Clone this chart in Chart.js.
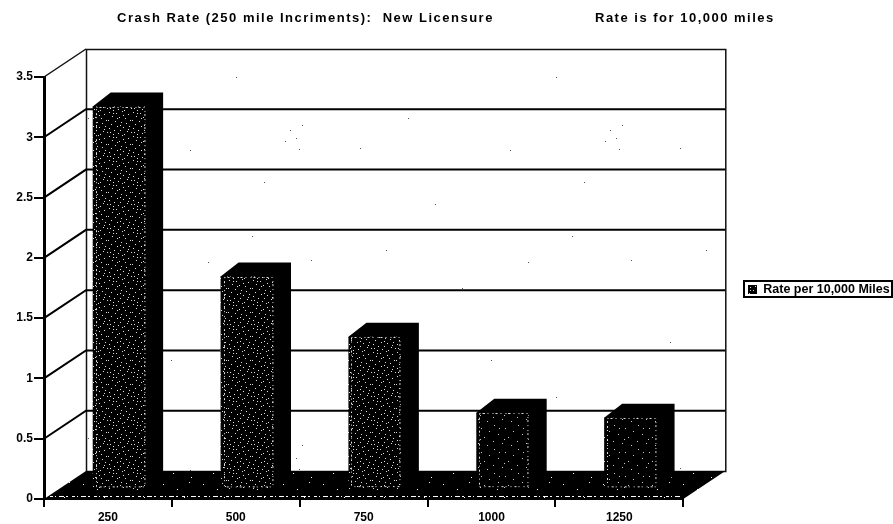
<!DOCTYPE html>
<html>
<head>
<meta charset="utf-8">
<style>
  html, body { margin: 0; padding: 0; background: #fff; }
  canvas { display: block; }
</style>
<script src="https://cdn.jsdelivr.net/npm/chart.js@4/dist/chart.umd.min.js"></script>
</head>
<body>
<canvas id="crashChart" width="893" height="524"></canvas>
<script>
const categories = ['250', '500', '750', '1000', '1250'];
const crashRates = [3.18, 1.77, 1.27, 0.64, 0.6];
const seriesName = 'Rate per 10,000 Miles';
const titleLeft = 'Crash Rate (250 mile Incriments):  New Licensure';
const titleRight = 'Rate is for 10,000 miles';

const labelFont = { family: 'Liberation Sans', weight: 'bold', size: 12 };
const legendFont = { family: 'Liberation Sans', weight: 'bold', size: 12.5 };
const cssFont = 'bold 13px "Liberation Sans"';

// depth of the fake 3D box and of each bar
const wallDx = 42, wallDy = -28;
const barShiftX = 11, barShiftY = -9;
const barDx = 18, barDy = -14;

// speckle positions for the tiles
const barDots = [[2, 1], [9, 2], [15, 0], [21, 3], [5, 5], [12, 6], [18, 7], [1, 9], [8, 10], [23, 9],
  [14, 11], [19, 12], [4, 13], [10, 15], [22, 15], [16, 16], [2, 17], [7, 19], [13, 19], [20, 20],
  [0, 21], [11, 22], [17, 23], [6, 23], [3, 21], [10, 7], [16, 4], [21, 18], [6, 2], [13, 14]];
const darkBarDots = [[3, 2], [14, 5], [22, 8], [7, 11], [17, 14], [2, 18], [11, 20], [20, 22], [8, 5], [13, 16]];
const floorDots = [[3, 4], [17, 9], [29, 2], [8, 21], [24, 17], [35, 28], [13, 33], [31, 37]];
const wallDots = [[30, 22], [171, 40], [88, 118], [236, 77], [115, 204], [40, 148], [264, 182],
  [290, 130], [296, 138], [302, 125], [285, 141], [299, 149], [208, 262], [142, 288], [66, 250],
  [252, 236], [190, 150], [311, 260], [24, 290]];

function makePattern(size, bg, fg, dots) {
  const c = document.createElement('canvas');
  c.width = c.height = size;
  const g = c.getContext('2d');
  g.fillStyle = bg;
  g.fillRect(0, 0, size, size);
  g.fillStyle = fg;
  dots.forEach(d => g.fillRect(d[0], d[1], 1, 1));
  return g.createPattern(c, 'repeat');
}

const barFill = makePattern(24, '#000', '#ddd', barDots);
const darkBarFill = makePattern(24, '#000', '#ccc', darkBarDots);
const floorFill = makePattern(40, '#000', '#fff', floorDots);
const wallFill = makePattern(320, '#fff', '#555', wallDots);

const box3d = {
  id: 'box3d',
  afterLayout(chart) {
    // legend sits out at the right edge, away from the plot
    const lg = chart.legend;
    const w = lg.right - lg.left, h = lg.bottom - lg.top;
    lg.left = 743;
    lg.right = 743 + w;
    lg.top -= 11;
    lg.bottom = lg.top + h;
  },
  beforeDatasetsDraw(chart) {
    const { ctx, chartArea: a, scales: { y } } = chart;
    const bx = a.left + wallDx, bxr = a.right + wallDx;
    const byTop = y.getPixelForValue(y.max) + wallDy, byBot = a.bottom + wallDy;
    ctx.save();
    // back wall
    ctx.fillStyle = wallFill;
    ctx.fillRect(bx, byTop, bxr - bx, byBot - byTop);
    ctx.strokeStyle = '#111';
    ctx.lineWidth = 1.5;
    ctx.strokeRect(bx + 0.5, byTop + 0.5, bxr - bx, byBot - byTop);
    // side wall top edge
    ctx.beginPath();
    ctx.moveTo(a.left, a.top);
    ctx.lineTo(bx, byTop);
    ctx.stroke();
    // floor
    ctx.fillStyle = floorFill;
    ctx.beginPath();
    ctx.moveTo(a.left, a.bottom);
    ctx.lineTo(bx, byBot);
    ctx.lineTo(bxr, byBot);
    ctx.lineTo(a.right, a.bottom);
    ctx.closePath();
    ctx.fill();
    // broken white edge along the front of the floor
    ctx.strokeStyle = '#fff';
    ctx.lineWidth = 1;
    ctx.setLineDash([3, 2, 1, 3, 5, 2, 2, 4]);
    ctx.beginPath();
    ctx.moveTo(a.left + 6, a.bottom - 2.5);
    ctx.lineTo(a.right - 2, a.bottom - 2.5);
    ctx.stroke();
    ctx.setLineDash([]);
    // gridlines run up the side wall and across the back
    ctx.strokeStyle = '#000';
    ctx.lineWidth = 2;
    y.ticks.forEach(t => {
      if (t.value === 0 || t.value === y.max) return;
      const py = y.getPixelForValue(t.value);
      ctx.beginPath();
      ctx.moveTo(a.left, py);
      ctx.lineTo(bx, py + wallDy);
      ctx.lineTo(bxr, py + wallDy);
      ctx.stroke();
    });
    ctx.restore();
  },
  beforeDatasetDraw(chart, args) {
    const { ctx } = chart;
    ctx.save();
    ctx.translate(barShiftX, barShiftY);
    ctx.fillStyle = '#000';
    args.meta.data.forEach(bar => {
      const l = bar.x - bar.width / 2, r = bar.x + bar.width / 2;
      ctx.beginPath();
      ctx.moveTo(l, bar.y);
      ctx.lineTo(l + barDx, bar.y + barDy);
      ctx.lineTo(r + barDx, bar.y + barDy);
      ctx.lineTo(r + barDx, bar.base + barDy);
      ctx.lineTo(r, bar.base);
      ctx.closePath();
      ctx.fill();
    });
  },
  afterDatasetDraw(chart, args) {
    const { ctx } = chart;
    // broken edge on the front face, black rim left of it
    ctx.strokeStyle = '#ddd';
    ctx.lineWidth = 1;
    ctx.setLineDash([1, 2, 2, 3, 1, 4]);
    args.meta.data.forEach(bar => {
      const l = bar.x - bar.width / 2, r = bar.x + bar.width / 2;
      ctx.strokeRect(Math.round(l) + 3.5, Math.round(bar.y) + 0.5, r - l - 4, bar.base - bar.y - 3);
    });
    ctx.restore();
  },
  afterDraw(chart) {
    const { ctx } = chart;
    ctx.save();
    ctx.fillStyle = '#000';
    ctx.font = cssFont;
    ctx.letterSpacing = '1.5px';
    ctx.textBaseline = 'alphabetic';
    ctx.fillText(titleLeft, 117, 22);
    ctx.fillText(titleRight, 595, 22);
    ctx.letterSpacing = '0px';
    ctx.strokeStyle = '#000';
    ctx.lineWidth = 2;
    ctx.strokeRect(744, 281, 148, 16);
    ctx.restore();
  }
};

new Chart(document.getElementById('crashChart'), {
  type: 'bar',
  data: {
    labels: categories,
    datasets: [{
      label: seriesName,
      data: crashRates,
      backgroundColor: [barFill, barFill, barFill, darkBarFill, darkBarFill],
      borderWidth: 0,
      barPercentage: 0.41,
      categoryPercentage: 1,
      clip: false
    }]
  },
  options: {
    responsive: false,
    animation: false,
    layout: { padding: { top: 77, right: 53, left: 0, bottom: 0 } },
    scales: {
      x: {
        afterFit: s => { s.height = 25; },
        grid: { offset: true, drawOnChartArea: false, color: '#000', lineWidth: 2, tickLength: 8 },
        border: { color: '#000', width: 2 },
        ticks: { color: '#000', font: labelFont, padding: 3, maxRotation: 0 }
      },
      y: {
        min: 0,
        max: 3.5,
        afterFit: s => { s.width = 44; },
        grid: { drawOnChartArea: false, color: '#000', lineWidth: 2, tickLength: 10 },
        border: { color: '#000', width: 3 },
        ticks: { stepSize: 0.5, color: '#000', font: labelFont, padding: 1, callback: v => String(v) }
      }
    },
    plugins: {
      title: { display: false },
      tooltip: { enabled: false },
      legend: {
        position: 'right',
        labels: { color: '#000', font: legendFont, boxWidth: 9, boxHeight: 9, padding: 5 }
      }
    }
  },
  plugins: [box3d]
});
</script>
</body>
</html>
